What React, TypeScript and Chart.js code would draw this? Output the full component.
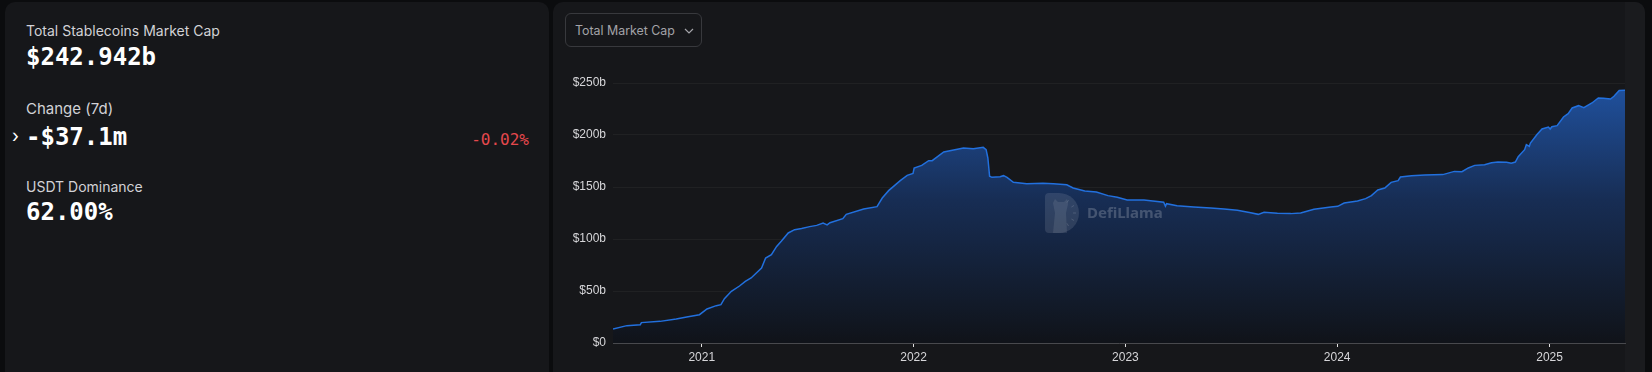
import React, { useEffect, useRef } from 'react';
import { Chart, registerables } from 'chart.js';

Chart.register(...registerables);

// ---- data ----
const dates: string[] = [
  '2020-08-01', '2020-08-25', '2020-09-17', '2020-09-19', '2020-10-21', '2020-11-18', '2020-12-06', '2020-12-28',
  '2021-01-10', '2021-01-26', '2021-02-03', '2021-02-09', '2021-02-21', '2021-03-07', '2021-03-17', '2021-03-27',
  '2021-04-05', '2021-04-14', '2021-04-21', '2021-05-01', '2021-05-10', '2021-05-18', '2021-05-30', '2021-06-10',
  '2021-06-22', '2021-07-06', '2021-07-18', '2021-07-29', '2021-08-05', '2021-08-10', '2021-09-01', '2021-09-07',
  '2021-10-07', '2021-10-30', '2021-11-08', '2021-11-19', '2021-12-09', '2021-12-21', '2021-12-31', '2022-01-02',
  '2022-01-15', '2022-01-27', '2022-02-02', '2022-02-22', '2022-03-11', '2022-03-28', '2022-04-14', '2022-05-01',
  '2022-05-06', '2022-05-09', '2022-05-12', '2022-05-16', '2022-05-30', '2022-06-05', '2022-06-11', '2022-06-22',
  '2022-07-15', '2022-08-12', '2022-08-30', '2022-09-22', '2022-10-03', '2022-10-23', '2022-11-12', '2022-12-02',
  '2022-12-18', '2023-01-04', '2023-02-02', '2023-03-08', '2023-03-11', '2023-03-13', '2023-03-31', '2023-04-29',
  '2023-05-28', '2023-06-20', '2023-07-13', '2023-08-05', '2023-08-18', '2023-08-28', '2023-09-20', '2023-10-13',
  '2023-10-30', '2023-11-22', '2023-12-21', '2024-01-02', '2024-01-13', '2024-02-05', '2024-02-19', '2024-02-29',
  '2024-03-11', '2024-03-23', '2024-04-03', '2024-04-15', '2024-04-19', '2024-05-08', '2024-05-31', '2024-07-01',
  '2024-07-21', '2024-08-03', '2024-08-14', '2024-08-25', '2024-09-11', '2024-09-23', '2024-10-04', '2024-10-19',
  '2024-10-27', '2024-11-03', '2024-11-08', '2024-11-19', '2024-11-22', '2024-11-27', '2024-11-29', '2024-12-10',
  '2024-12-19', '2024-12-30', '2025-01-02', '2025-01-05', '2025-01-14', '2025-01-25', '2025-02-02', '2025-02-09',
  '2025-02-20', '2025-03-01', '2025-03-15', '2025-03-26', '2025-04-04', '2025-04-16', '2025-04-22', '2025-05-01',
  '2025-05-11',
];

const marketCapB: number[] = [
  13.5, 16.7, 17.6, 19.6, 20.8, 23.1, 25.0, 27.2,
  32.7, 35.9, 36.9, 42.6, 49.7, 54.8, 59.3, 62.5,
  67.3, 72.1, 81.7, 84.9, 92.9, 97.8, 105.8, 109.0,
  110.0, 111.9, 113.1, 115.4, 113.5, 115.7, 119.6, 123.7,
  128.8, 131.1, 139.4, 146.5, 156.1, 161.2, 163.1, 168.3,
  170.8, 175.3, 175.3, 183.7, 185.6, 187.5, 186.9, 188.1,
  185.9, 177.9, 160.3, 159.3, 159.9, 160.9, 159.3, 154.5,
  153.2, 153.5, 153.2, 152.2, 149.0, 146.2, 145.2, 141.7,
  140.1, 137.5, 137.5, 135.3, 131.5, 134.0, 132.0, 130.8,
  129.8, 128.8, 127.6, 125.3, 123.7, 125.6, 124.7, 124.4,
  125.0, 128.5, 130.8, 131.4, 134.6, 136.5, 138.8, 141.7,
  147.1, 149.0, 154.5, 156.1, 159.6, 160.9, 161.5, 161.9,
  165.0, 164.7, 168.3, 170.8, 171.5, 173.4, 174.0, 173.7,
  172.8, 174.0, 179.2, 185.9, 190.7, 189.0, 192.3, 200.3,
  205.8, 207.7, 205.8, 208.0, 209.0, 217.3, 220.5, 226.0,
  228.2, 226.3, 230.8, 235.6, 235.3, 234.6, 237.2, 242.9,
  243.0,
];

const xTickYears: string[] = ['2021', '2022', '2023', '2024', '2025'];
const yTickValues: number[] = [0, 50, 100, 150, 200, 250];
const yTickLabels: string[] = ['$0', '$50b', '$100b', '$150b', '$200b', '$250b'];

const DAY = 86400000;
const toDay = (s: string) => Date.parse(s) / DAY;

const watermark = {
  id: 'watermark',
  afterDatasetsDraw(chart: any) {
    const { ctx, chartArea: a } = chart;
    const cx = (a.left + a.right) / 2;
    const cy = (a.top + a.bottom) / 2;
    ctx.save();
    // "D" logo
    const lx = cx - 74, ly = cy - 20, h = 40, r = h / 2, w = 34;
    ctx.fillStyle = 'rgba(255,255,255,0.11)';
    ctx.beginPath();
    ctx.moveTo(lx + 4, ly);
    ctx.lineTo(lx + w - r, ly);
    ctx.arc(lx + w - r, ly + r, r, -Math.PI / 2, Math.PI / 2);
    ctx.lineTo(lx + 4, ly + h);
    ctx.quadraticCurveTo(lx, ly + h, lx, ly + h - 4);
    ctx.lineTo(lx, ly + 4);
    ctx.quadraticCurveTo(lx, ly, lx + 4, ly);
    ctx.closePath();
    ctx.fill();
    // llama silhouette
    ctx.fillStyle = 'rgba(255,255,255,0.09)';
    ctx.beginPath();
    ctx.moveTo(lx + 8, ly + h);
    ctx.lineTo(lx + 10, ly + 20);
    ctx.lineTo(lx + 8, ly + 10);
    ctx.lineTo(lx + 10, ly + 6);
    ctx.lineTo(lx + 13, ly + 9);
    ctx.lineTo(lx + 19, ly + 9);
    ctx.lineTo(lx + 22, ly + 6);
    ctx.lineTo(lx + 23, ly + 11);
    ctx.lineTo(lx + 21, ly + 20);
    ctx.lineTo(lx + 22, ly + h);
    ctx.closePath();
    ctx.fill();
    // clock-like ticks
    ctx.strokeStyle = 'rgba(255,255,255,0.14)';
    ctx.lineWidth = 1;
    const ox = lx + 16, oy = ly + 20;
    [-60, -30, 0, 30, 60].forEach((deg) => {
      const t = (deg * Math.PI) / 180;
      ctx.beginPath();
      ctx.moveTo(ox + Math.cos(t) * 12, oy + Math.sin(t) * 12);
      ctx.lineTo(ox + Math.cos(t) * 15, oy + Math.sin(t) * 15);
      ctx.stroke();
    });
    // text
    ctx.fillStyle = 'rgba(255,255,255,0.2)';
    ctx.font = 'bold 15px "Noto Sans", "Open Sans", sans-serif';
    ctx.textBaseline = 'middle';
    ctx.textAlign = 'left';
    ctx.fillText('DefiLlama', cx - 32, cy + 1);
    ctx.restore();
  },
};

const labelStyle: React.CSSProperties = {
  position: 'absolute',
  left: 21,
  fontFamily: 'Inter, "Noto Sans", sans-serif',
  fontSize: 14,
  lineHeight: '20px',
  color: '#d2d2d6',
  whiteSpace: 'nowrap',
};

const valueStyle: React.CSSProperties = {
  position: 'absolute',
  left: 21,
  fontFamily: '"DejaVu Sans Mono", "Liberation Mono", monospace',
  fontWeight: 700,
  fontSize: 24,
  lineHeight: '30px',
  color: '#ffffff',
  whiteSpace: 'nowrap',
};

export default function App() {
  const ref = useRef<HTMLCanvasElement>(null);

  useEffect(() => {
    document.documentElement.style.background = '#0b0c0e';
    document.body.style.margin = '0';
    document.body.style.background = '#0b0c0e';
    document.body.style.overflow = 'hidden';

    const points = dates.map((d, i) => ({ x: toDay(d), y: marketCapB[i] }));
    const font = { family: '"Liberation Sans", Arial, sans-serif', size: 12 };

    const chart = new Chart(ref.current as HTMLCanvasElement, {
      type: 'line',
      data: {
        datasets: [
          {
            data: points,
            borderColor: '#2270de',
            borderWidth: 1.5,
            pointRadius: 0,
            tension: 0,
            fill: 'origin',
            backgroundColor: (c: any) => {
              const { chart: ch } = c;
              const area = ch.chartArea;
              if (!area) return 'rgba(30,80,160,0.5)';
              const g = ch.ctx.createLinearGradient(0, area.top, 0, area.bottom);
              g.addColorStop(0, 'rgb(32,82,160)');
              g.addColorStop(0.45, 'rgb(23,45,84)');
              g.addColorStop(1, 'rgb(16,19,25)');
              return g;
            },
          },
        ],
      },
      options: {
        animation: false,
        responsive: false,
        events: [],
        layout: { padding: { top: 23, right: 20, left: 0, bottom: 0 } },
        plugins: { legend: { display: false }, tooltip: { enabled: false } },
        scales: {
          x: {
            type: 'linear',
            min: toDay(dates[0]),
            max: toDay(dates[dates.length - 1]),
            afterBuildTicks: (s: any) => {
              s.ticks = xTickYears.map((y) => ({ value: toDay(`${y}-01-01`) }));
            },
            afterFit: (s: any) => {
              s.height = 29;
            },
            ticks: {
              color: '#d6d6d9',
              font,
              padding: 3,
              maxRotation: 0,
              autoSkip: false,
              callback: (_v: any, i: number) => xTickYears[i],
            },
            grid: {
              display: true,
              drawOnChartArea: false,
              drawTicks: true,
              tickLength: 4,
              tickColor: '#e2e2e2',
              color: '#e2e2e2',
            },
            border: { display: true, color: '#48494d', width: 1 },
          },
          y: {
            type: 'linear',
            min: 0,
            max: 250,
            afterBuildTicks: (s: any) => {
              s.ticks = yTickValues.map((v) => ({ value: v }));
            },
            afterFit: (s: any) => {
              s.width = 60;
            },
            ticks: {
              color: '#d6d6d9',
              font,
              padding: 7,
              callback: (_v: any, i: number) => yTickLabels[i],
            },
            grid: { color: 'rgba(255,255,255,0.045)', drawTicks: false },
            border: { display: false },
          },
        },
      },
      plugins: [watermark],
    } as any);

    return () => chart.destroy();
  }, []);

  return (
    <div style={{ position: 'relative', width: 1652, height: 372, overflow: 'hidden', background: '#0b0c0e' }}>
      {/* left stats panel */}
      <div
        style={{
          position: 'absolute',
          left: 5,
          top: 2,
          width: 544,
          height: 390,
          background: '#16171a',
          borderRadius: 10,
        }}
      >
        <div style={{ ...labelStyle, top: 19 }}>Total Stablecoins Market Cap</div>
        <div style={{ ...valueStyle, top: 40 }}>$242.942b</div>
        <div style={{ ...labelStyle, top: 97, fontSize: 15 }}>Change (7d)</div>
        <div
          style={{
            position: 'absolute',
            left: 7,
            top: 123,
            fontFamily: 'Inter, sans-serif',
            fontSize: 18,
            lineHeight: '22px',
            color: '#ffffff',
          }}
        >
          ›
        </div>
        <div style={{ ...valueStyle, top: 120 }}>-$37.1m</div>
        <div
          style={{
            position: 'absolute',
            right: 20,
            top: 127,
            fontFamily: '"DejaVu Sans Mono", "Liberation Mono", monospace',
            fontSize: 16,
            lineHeight: '22px',
            color: '#e5484d',
          }}
        >
          -0.02%
        </div>
        <div style={{ ...labelStyle, top: 175 }}>USDT Dominance</div>
        <div style={{ ...valueStyle, top: 195 }}>62.00%</div>
      </div>

      {/* right chart panel */}
      <div
        style={{
          position: 'absolute',
          left: 553,
          top: 2,
          width: 1092,
          height: 390,
          background: '#16171a',
          borderRadius: 10,
          overflow: 'hidden',
        }}
      >
        <div
          style={{
            position: 'absolute',
            left: 1072,
            top: 0,
            width: 20,
            height: 390,
            background: '#1a1b1e',
          }}
        />
        <div
          style={{
            position: 'absolute',
            left: 12,
            top: 11,
            width: 137,
            height: 34,
            boxSizing: 'border-box',
            border: '1px solid #38393d',
            borderRadius: 6,
            display: 'flex',
            alignItems: 'center',
            paddingLeft: 9,
            fontFamily: 'Inter, "Noto Sans", sans-serif',
            fontSize: 12.4,
            color: '#a3a3a8',
            whiteSpace: 'nowrap',
          }}
        >
          Total Market Cap
          <svg width="10" height="6" viewBox="0 0 10 6" style={{ position: 'absolute', left: 118, top: 14 }}>
            <polyline points="1,1 5,5 9,1" fill="none" stroke="#a3a3a8" strokeWidth="1.2" />
          </svg>
        </div>
        <canvas
          ref={ref}
          width={1092}
          height={312}
          style={{ position: 'absolute', left: 0, top: 58, width: 1092, height: 312 }}
        />
      </div>
    </div>
  );
}
